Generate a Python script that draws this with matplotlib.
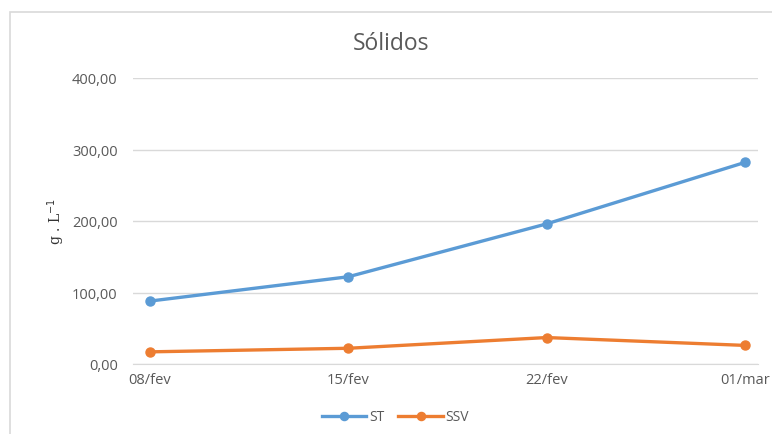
import matplotlib.pyplot as plt
from matplotlib.patches import Rectangle
from matplotlib.ticker import FuncFormatter

datas = ['08/fev', '15/fev', '22/fev', '01/mar']
st = [88, 122, 196, 282]
ssv = [17, 22, 37, 26]

cinza = '#595959'
plt.rcParams['font.family'] = ['Open Sans', 'DejaVu Sans']

fig = plt.figure(figsize=(7.72, 4.35), dpi=100)
# moldura da área do gráfico (cortada à direita e embaixo)
fig.patches.append(Rectangle((10 / 772, -0.05), 1.2, 1 - 13 / 435 + 0.05,
                             transform=fig.transFigure, fill=False,
                             edgecolor='#d9d9d9', linewidth=1.2))

ax = fig.add_axes([133 / 772, 1 - 365 / 435, (758 - 133) / 772, (365 - 79) / 435])
x = range(len(datas))
ax.plot(x, st, color='#5B9BD5', lw=2.4, marker='o', ms=6.5, label='ST')
ax.plot(x, ssv, color='#ED7D31', lw=2.4, marker='o', ms=6.5, label='SSV')

ax.set_xlim(-0.085, 3.065)
ax.set_ylim(0, 400)
ax.set_yticks([0, 100, 200, 300, 400])
ax.yaxis.set_major_formatter(FuncFormatter(lambda v, p: f'{v:.2f}'.replace('.', ',')))
ax.set_xticks(list(x))
ax.set_xticklabels(datas)
ax.grid(axis='y', color='#d9d9d9', lw=1)
ax.set_axisbelow(True)
for s in ['top', 'right', 'left']:
    ax.spines[s].set_visible(False)
ax.spines['bottom'].set_color('#d9d9d9')
ax.tick_params(axis='both', length=0, labelsize=10.5, colors=cinza)
ax.tick_params(axis='y', pad=11)
ax.tick_params(axis='x', pad=6)

ax.set_ylabel('g . L$^{-1}$', fontsize=10, color='#333333', family='DejaVu Serif', labelpad=4)
fig.text(391 / 772, 1 - 44 / 435, 'Sólidos', ha='center', va='center', fontsize=16.5, color=cinza)

ax.legend(loc='upper center', bbox_to_anchor=(0.42, -0.115), ncol=2, frameon=False,
          fontsize=10, labelcolor=cinza, handlelength=3.2, columnspacing=1.0,
          handletextpad=0.2, markerscale=0.9)

fig.savefig('out.png', dpi=100)
